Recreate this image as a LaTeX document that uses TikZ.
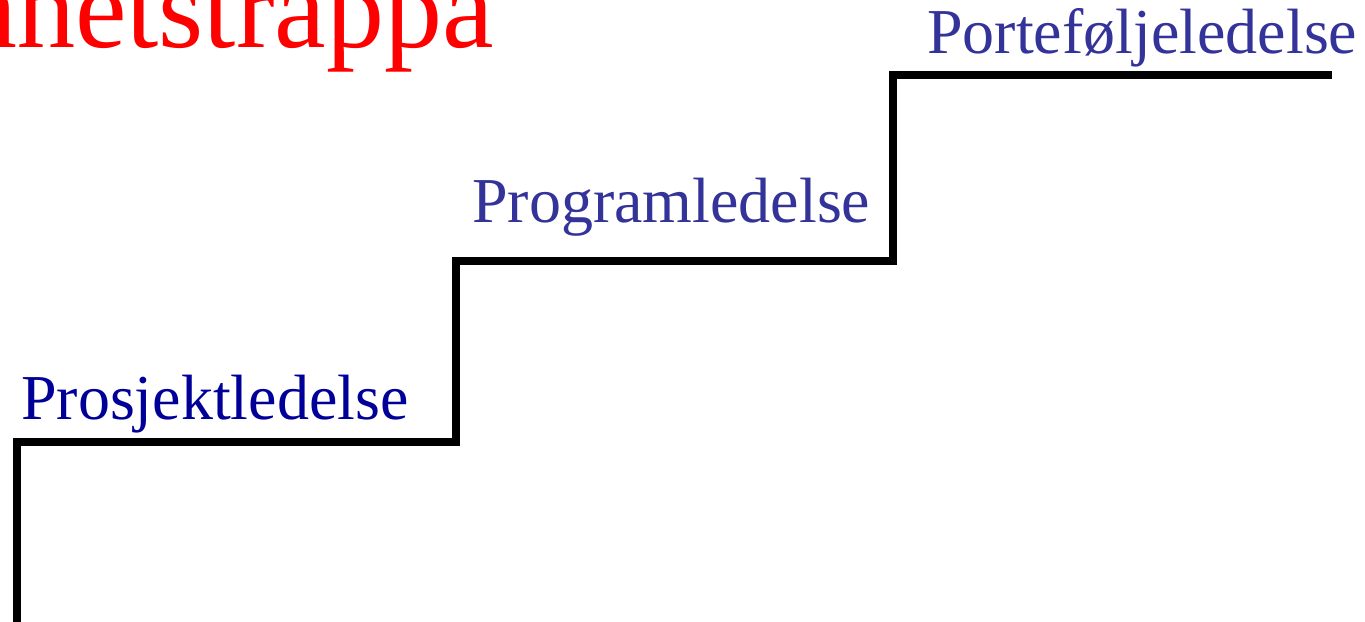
\documentclass[tikz,border=0pt]{standalone}
\usepackage{fontspec}
\setmainfont{Liberation Serif}
\definecolor{titlered}{RGB}{255,0,0}
\definecolor{darkblue}{RGB}{0,0,153}
\definecolor{midblue}{RGB}{51,51,153}
\tikzset{
  stair/.style={line width=7.5pt, black, line join=miter},
  levellabel/.style={anchor=base west, inner sep=0pt, font=\fontsize{64}{64}\selectfont},
  titlelabel/.style={anchor=base east, inner sep=0pt, text=titlered, font=\fontsize{116}{116}\selectfont}
}
\begin{document}
\begin{tikzpicture}[x=1pt,y=-1pt]
\useasboundingbox (0,0) rectangle (1365,621);
\clip (0,0) rectangle (1365,621);
\node[titlelabel] (title) at (494,47) {Modenhetstrappa};
\coordinate (s0) at (17,630);
\coordinate (s1) at (17,442);
\coordinate (s2) at (456,442);
\coordinate (s3) at (456,261);
\coordinate (s4) at (893,261);
\coordinate (s5) at (893,75);
\coordinate (s6) at (1332,75);
\draw[stair] (s0) -- (s1) -- (s2) -- (s3) -- (s4) -- (s5) -- (s6);
\node[levellabel, text=darkblue] (prosjekt) at (21,419) {Prosjektledelse};
\node[levellabel, text=midblue] (program) at (472,222) {Programledelse};
\node[levellabel, text=midblue] (portefolje) at (927,53) {Porteføljeledelse};
\end{tikzpicture}
\end{document}
